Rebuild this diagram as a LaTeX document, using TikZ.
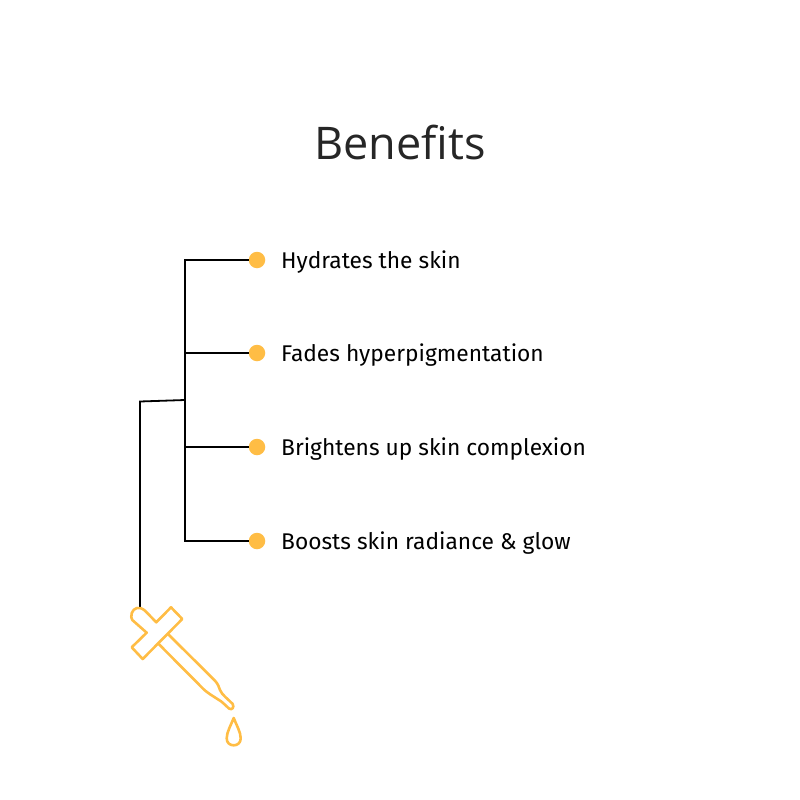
\documentclass[tikz,border=0pt]{standalone}
\usepackage{fontspec}
\setmainfont{Open Sans}
\newfontfamily\itemfont{Fira Sans}
\definecolor{amberdot}{HTML}{FFBD45}
\definecolor{titlegray}{HTML}{262626}
\begin{document}
\begin{tikzpicture}[x=1pt,y=-1pt,
  link/.style={draw=black,line width=1.8pt,line join=miter},
  dotnode/.style={circle,fill=amberdot,minimum size=16.5pt,inner sep=0pt},
  itemlabel/.style={anchor=west,inner sep=0pt,font=\itemfont\fontsize{22.75}{26}\selectfont,text=black},
  dropper/.style={draw=amberdot,line width=2.6pt,line join=round,line cap=round}]
\useasboundingbox (0,0) rectangle (800,800);
\node[anchor=center,inner sep=0pt,text=titlegray,font=\fontsize{45}{52}\selectfont] (title) at (400,142.5) {Benefits};
\foreach \n/\y/\t in {a/260/Hydrates the skin,b/353/Fades hyperpigmentation,c/447/Brightens up skin complexion,d/541/Boosts skin radiance \& glow}{
  \node[dotnode] (dot\n) at (257,\y) {};
  \node[itemlabel] (lab\n) at (281,\y+2) {\t};
  \coordinate (t\n) at (185,\y);
  \draw[link] (t\n) -- (dot\n);
}
\draw[link,line cap=rect] (ta) -- (td);
\coordinate (junction) at (185,400);
\coordinate (bend) at (140,401.5);
\coordinate (droptop) at (140,607);
\draw[link] (junction) -- (bend) -- (droptop);
% dropper
\draw[dropper] (132.3,620) -- (146.7,632.7) -- (131.7,647.3) -- (142.7,659) -- (182.3,619) -- (171,607.3) -- (156.3,622.3) -- (145,610.7)
  .. controls (139,605.5) and (133.5,608) .. (131.8,613) .. controls (131,616) and (131,618.5) .. cycle;
\draw[dropper] (168.3,634.3) -- (215,680.7) .. controls (218,684) and (219,687) .. (220,690) .. controls (222,695) and (228,699) .. (232.7,704)
  .. controls (234.5,707.5) and (232,710.5) .. (229,708.5) .. controls (225,705) and (222,701.5) .. (219,700) .. controls (213,696) and (207,693) .. (201.7,687.3) -- (159,644.3);
\draw[dropper] (233.7,718) .. controls (231,725) and (226.7,732) .. (226.7,738.3) .. controls (226.7,743) and (230,745.3) .. (233.7,745.3)
  .. controls (237.4,745.3) and (240.7,743) .. (240.7,738.3) .. controls (240.7,732) and (236.4,725) .. cycle;
\end{tikzpicture}
\end{document}
